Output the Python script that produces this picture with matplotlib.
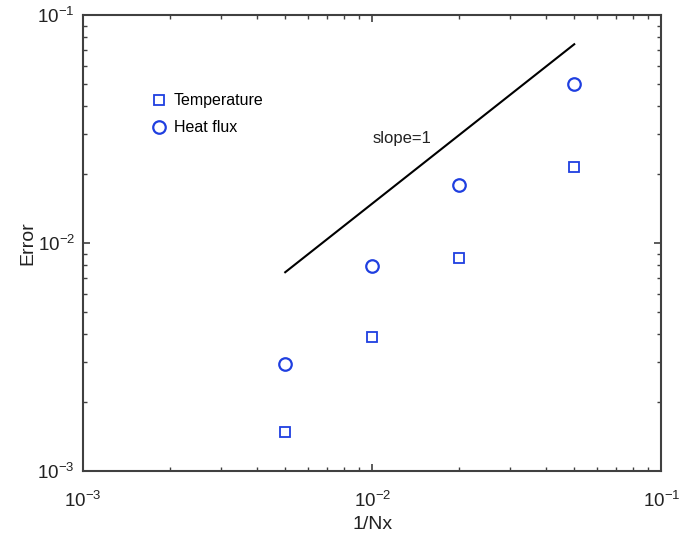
import matplotlib
matplotlib.use("Agg")
import matplotlib.pyplot as plt

plt.rcParams['font.family'] = ['Liberation Sans', 'DejaVu Sans']
plt.rcParams['axes.unicode_minus'] = False

inv_nx = [5e-3, 1e-2, 2e-2, 5e-2]
err_temp = [1.48e-3, 3.86e-3, 8.6e-3, 2.16e-2]
err_flux = [2.94e-3, 7.97e-3, 1.80e-2, 4.99e-2]
slope_x = [5e-3, 5e-2]
slope_y = [7.45e-3, 7.45e-2]

blue = '#1f3fe0'
axc = '#404040'

fig = plt.figure(figsize=(6.99, 5.39), dpi=100)
ax = fig.add_axes([0.119, 0.126, 0.827, 0.846])

ax.plot(inv_nx, err_temp, 's', mfc='none', mec=blue, mew=1.3, ms=7, label='Temperature')
ax.plot(inv_nx, err_flux, 'o', mfc='none', mec=blue, mew=1.6, ms=9, label='Heat flux')
ax.plot(slope_x, slope_y, '-', color='black', lw=1.5)
ax.text(1e-2, 2.87e-2, 'slope=1', fontsize=12, va='center', ha='left', color='#222222')

ax.set_xscale('log')
ax.set_yscale('log')
ax.set_xlim(1e-3, 1e-1)
ax.set_ylim(1e-3, 1e-1)
ax.set_xlabel('1/Nx', fontsize=14, color='#222222', labelpad=4)
ax.set_ylabel('Error', fontsize=14, color='#222222', labelpad=1)

for s in ax.spines.values():
    s.set_color(axc)
    s.set_linewidth(1.5)
ax.tick_params(which='both', direction='in', top=True, right=True, colors=axc,
               labelcolor='#222222', labelsize=13.5)
ax.tick_params(which='major', length=5, width=1.2)
ax.tick_params(which='minor', length=3, width=1)
ax.tick_params(axis='x', pad=14)
ax.tick_params(axis='y', pad=6)

ax.legend(loc='upper left', bbox_to_anchor=(0.09, 0.86), frameon=False, fontsize=11.5,
          handletextpad=0.3, labelspacing=0.75, handlelength=1.2)

fig.savefig('out.png', dpi=100)
